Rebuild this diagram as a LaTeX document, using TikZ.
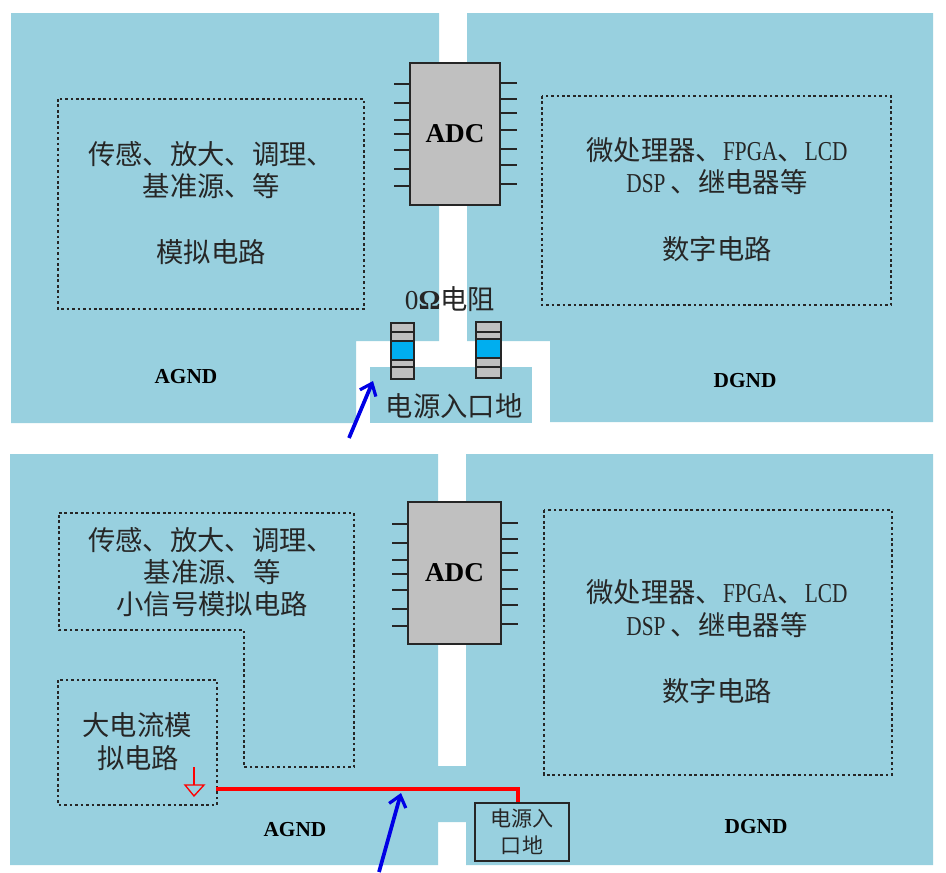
\documentclass[tikz,border=0pt]{standalone}
\usepackage{fontspec}
\setmainfont{Liberation Serif}
\newfontfamily\cjk{Noto Sans CJK SC}
\newfontfamily\latn[FakeStretch=0.78]{Liberation Serif}
\usetikzlibrary{arrows.meta,calc}
\definecolor{plane}{HTML}{98D0DF}
\definecolor{chipgrey}{HTML}{C0C0C0}
\definecolor{bluebar}{HTML}{00AEEF}
\tikzset{
  x=0.75pt,y=-0.75pt,
  planefill/.style={fill=plane,draw=none},
  dotbox/.style={draw=black!85,line width=1.5pt,dash pattern=on 2pt off 2.1pt},
  chip/.style={draw=black!85,line width=1.6pt,fill=chipgrey},
  pin/.style={draw=black!85,line width=1.5pt},
  res/.style={draw=black!85,line width=1.6pt,fill=chipgrey},
  bluearrow/.style={draw=blue!90!black,line width=2.8pt,-{Straight Barb[length=8pt,width=13pt,line width=2.4pt]}},
  redline/.style={draw=red,line width=2.6pt},
  lab/.style={font=\fontsize{20.5}{26}\selectfont\cjk,text=black!85,align=center,inner sep=0pt},
  gnd/.style={font=\fontsize{16}{18}\selectfont\bfseries,inner sep=0pt},
  adc/.style={font=\fontsize{20.4}{22}\selectfont\bfseries,inner sep=0pt},
}
% x, y, width in px, name, extra offset of the pins
\newcommand{\adcchip}[5]{%
  \node[chip,minimum width=#3*0.75pt-1.6pt,minimum height=106.4pt,inner sep=0pt,anchor=north west] (#4) at (#1,#2) {};
  \node[adc] (#4t) at (#4.center) [yshift=0.2pt] {ADC};
  \foreach \d [count=\i] in {22,41,58,72,88,107,124} {\coordinate (#4l\i) at ($(#1,#2)+(0,\d+#5)$); \draw[pin] (#4l\i) -- ++(-15,0);}
  \foreach \d [count=\i] in {21,37,51,68,87,103,122} {\coordinate (#4r\i) at ($(#1,#2)+(#3,\d+#5)$); \draw[pin] (#4r\i) -- ++(16,0);}
}
\newcommand{\resistor}[7]{%
  \draw[res] (#1,#3) rectangle (#2,\resbot);
  \draw[res] (#1,#4) -- (#2,#4);
  \draw[res,fill=bluebar] (#1,#5) rectangle (#2,#6);
  \draw[res] (#1,#7) -- (#2,#7);
}
\newcommand{\dsptext}{\latn\fontsize{20.5}{26}\selectfont DSP\kern4pt\cjk 、继电器等}
\newcommand{\fpgatext}{微处理器、\latn\fontsize{20.5}{26}\selectfont FPGA\cjk 、\latn LCD}
\begin{document}
\begin{tikzpicture}
\useasboundingbox (0,0) rectangle (946,872);
\fill[white] (0,0) rectangle (946,872);
% top planes
\fill[planefill] (11,13) -- (439,13) -- (439,341) -- (356,341) -- (356,423) -- (11,423) -- cycle;
\fill[planefill] (467,13) -- (933,13) -- (933,422) -- (550,422) -- (550,341) -- (467,341) -- cycle;
\fill[planefill] (370,367) rectangle (532,423);
% bottom planes
\fill[planefill] (10,454) -- (438,454) -- (438,766) -- (466,766) -- (466,454) -- (933,454) -- (933,865) -- (466,865) -- (466,822) -- (438,822) -- (438,865) -- (10,865) -- cycle;
% dotted regions
\draw[dotbox] (58,99) rectangle (364,309);
\draw[dotbox] (542,96) rectangle (891,305);
\draw[dotbox] (59,513) -- (354,513) -- (354,767) -- (244,767) -- (244,630) -- (59,630) -- cycle;
\draw[dotbox] (58,680) rectangle (217,805);
\draw[dotbox] (544,510) rectangle (892,775);
% chips
\adcchip{409}{62}{92}{adcA}{0}
\adcchip{407}{501}{95}{adcB}{1}
% resistors
\def\resbot{379}
\resistor{391}{414}{323}{332}{341}{360}{367}
\def\resbot{378}
\resistor{476}{501}{322}{332}{339}{358}{367}
% texts
\node[lab] (t1) at (211,154) {传感、放大、调理、};
\node[lab] (t2) at (211,186) {基准源、等};
\node[lab] (t3) at (211,252) {模拟电路};
\node[lab] (t4) at (717,150) {\fpgatext};
\node[lab] (t5) at (717,182) {\dsptext};
\node[lab] (t6) at (717,249) {数字电路};
\node[lab] (t7) at (450,299) {\rmfamily 0\textbf{Ω}\cjk 电阻};
\node[lab] (t8) at (454,406) {电源入口地};
\node[gnd] (g1) at (186,377) {AGND};
\node[gnd] (g2) at (745,381) {DGND};
\node[lab] (t9) at (211,540) {传感、放大、调理、};
\node[lab] (t10) at (212,572) {基准源、等};
\node[lab] (t11) at (212,604) {小信号模拟电路};
\node[lab] (t12) at (137,725) {大电流模};
\node[lab] (t13) at (138,758) {拟电路};
\node[lab] (t14) at (717,592) {\fpgatext};
\node[lab] (t15) at (717,625) {\dsptext};
\node[lab] (t16) at (717,691) {数字电路};
\node[gnd] (g3) at (295,830) {AGND};
\node[gnd] (g4) at (756,827) {DGND};
% power box
\node[draw=black!85,line width=1.7pt,minimum width=71pt,minimum height=44pt,inner sep=0pt,
  font=\fontsize{15.8}{20.5}\selectfont\cjk,align=center,text=black!85] (pwr) at (522,832) {电源入\\口地};
% ground symbol
\coordinate (gs) at (194,767);
\coordinate (gb) at (194,785);
\draw[red,line width=1pt] (gs) -- (gb);
\draw[red,line width=1pt] (185,785) -- (204,785) -- (194,796) -- cycle;
% red trace
\coordinate (rs) at (216,789);
\draw[redline] (rs) -- (518,789) -- (pwr.north -| 518,789);
% blue arrows
\coordinate (a1s) at (349,438);
\coordinate (a1e) at (373,381);
\draw[bluearrow] (a1s) -- (a1e);
\coordinate (a2s) at (379,872);
\coordinate (a2e) at (401,793);
\draw[bluearrow] (a2s) -- (a2e);
\end{tikzpicture}
\end{document}
